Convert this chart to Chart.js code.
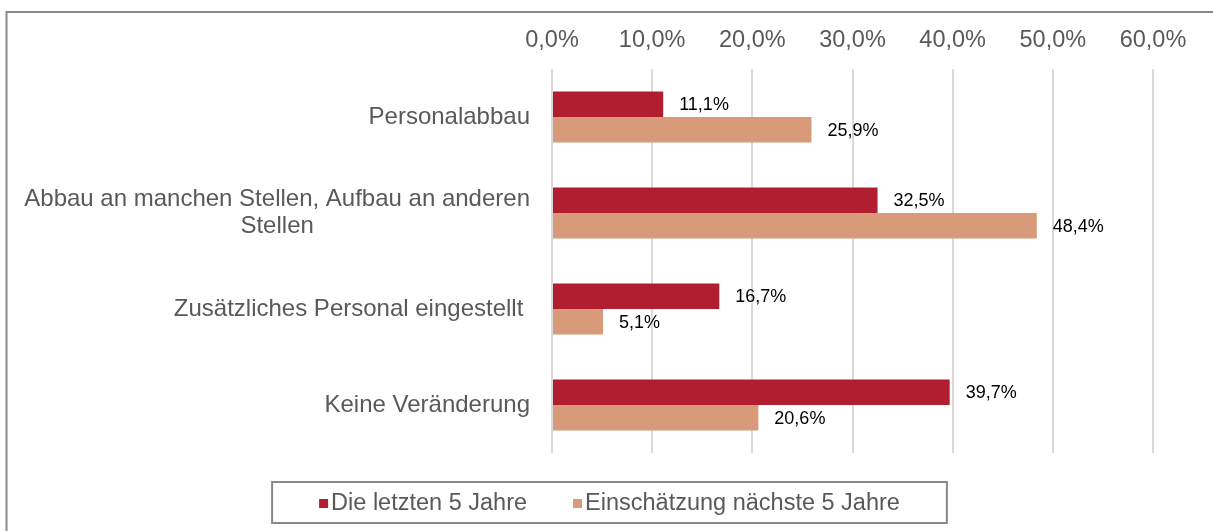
<!DOCTYPE html>
<html>
<head>
<meta charset="utf-8">
<script src="https://cdn.jsdelivr.net/npm/chart.js@4/dist/chart.umd.min.js"></script>
<style>
  html, body { margin: 0; padding: 0; background: #fff; }
  #wrap { position: relative; width: 1213px; height: 531px; }
</style>
</head>
<body>
<div id="wrap"><canvas id="chart"></canvas></div>
<script>
const categories = [
  'Personalabbau',
  ['Abbau an manchen Stellen, Aufbau an anderen', 'Stellen'],
  'Zusätzliches Personal eingestellt ',
  'Keine Veränderung',
];
const seriesNames = ['Die letzten 5 Jahre', 'Einschätzung nächste 5 Jahre'];
const lastFiveYears = [11.1, 32.5, 16.7, 39.7];
const nextFiveYears = [25.9, 48.4, 5.1, 20.6];
const axisMin = 0;
const axisMax = 60;
const axisStep = 10;

const FONT = '"Liberation Sans", Arial, sans-serif';
const TEXT_GREY = '#595959';

function formatPercent(value) {
  return `${Number(value).toFixed(1).replace('.', ',')}%`;
}

// frame lines at top and left, like the cropped chart border
const framePlugin = {
  id: 'frame',
  beforeDraw(chart) {
    const { ctx, width, height } = chart;
    ctx.save();
    ctx.strokeStyle = '#898989';
    ctx.lineWidth = 2;
    ctx.beginPath();
    ctx.moveTo(width, 12);
    ctx.lineTo(6.5, 12);
    ctx.lineTo(6.5, height);
    ctx.stroke();
    ctx.restore();
  },
};

// category labels: right aligned block, lines centred inside the block
const categoryLabelPlugin = {
  id: 'categoryLabels',
  afterDraw(chart) {
    const { ctx } = chart;
    const yScale = chart.scales.y;
    const rightEdge = chart.chartArea.left - 22;
    const lineHeight = 27;
    ctx.save();
    ctx.font = `24px ${FONT}`;
    ctx.fillStyle = TEXT_GREY;
    ctx.textBaseline = 'middle';
    ctx.textAlign = 'center';
    chart.data.labels.forEach((label, i) => {
      const lines = Array.isArray(label) ? label : [label];
      const blockWidth = Math.max(...lines.map((l) => ctx.measureText(l).width));
      const cx = rightEdge - blockWidth / 2;
      const cy = yScale.getPixelForTick(i);
      const startY = cy - ((lines.length - 1) * lineHeight) / 2;
      lines.forEach((line, j) => {
        ctx.fillText(line, cx, startY + j * lineHeight);
      });
    });
    ctx.restore();
  },
};

// value labels just past the end of each bar
const valueLabelPlugin = {
  id: 'valueLabels',
  afterDatasetsDraw(chart) {
    const { ctx } = chart;
    ctx.save();
    ctx.font = `18px ${FONT}`;
    ctx.fillStyle = '#000';
    ctx.textAlign = 'left';
    ctx.textBaseline = 'middle';
    chart.data.datasets.forEach((dataset, di) => {
      const meta = chart.getDatasetMeta(di);
      meta.data.forEach((bar, i) => {
        ctx.fillText(formatPercent(dataset.data[i]), bar.x + 16, bar.y + 1);
      });
    });
    ctx.restore();
  },
};

// boxed legend below the plot
const boxedLegendPlugin = {
  id: 'boxedLegend',
  afterDraw(chart) {
    const { ctx } = chart;
    const square = 9;
    const gap = 3;
    const itemGap = 46;
    const boxTop = 482;
    const boxHeight = 41;
    const padX = 47;
    const midY = boxTop + boxHeight / 2 + 1;
    ctx.save();
    ctx.font = `23.5px ${FONT}`;
    const items = chart.data.datasets.map((ds) => ({
      label: ds.label,
      color: ds.backgroundColor,
      width: square + gap + ctx.measureText(ds.label).width,
    }));
    const total = items.reduce((s, it) => s + it.width, 0) + itemGap * (items.length - 1);
    const centerX = chart.width / 2 + 3;
    let x = centerX - total / 2;

    ctx.strokeStyle = '#898989';
    ctx.lineWidth = 2;
    ctx.strokeRect(x - padX, boxTop, total + padX * 2, boxHeight);

    ctx.textAlign = 'left';
    ctx.textBaseline = 'middle';
    items.forEach((it) => {
      ctx.fillStyle = it.color;
      ctx.fillRect(x, midY - square / 2, square, square);
      ctx.fillStyle = TEXT_GREY;
      ctx.fillText(it.label, x + square + gap, midY);
      x += it.width + itemGap;
    });
    ctx.restore();
  },
};

new Chart(document.getElementById('chart'), {
  type: 'bar',
  data: {
    labels: categories,
    datasets: [
      {
        label: seriesNames[0],
        data: lastFiveYears,
        backgroundColor: '#B01E2F',
      },
      {
        label: seriesNames[1],
        data: nextFiveYears,
        backgroundColor: '#D89A78',
      },
    ],
  },
  options: {
    indexAxis: 'y',
    responsive: true,
    maintainAspectRatio: false,
    animation: false,
    categoryPercentage: 0.531,
    barPercentage: 1,
    layout: {
      padding: { top: 0, right: 60, bottom: 78, left: 0 },
    },
    plugins: {
      legend: { display: false },
      tooltip: { enabled: false },
    },
    scales: {
      x: {
        position: 'top',
        min: axisMin,
        max: axisMax,
        grid: {
          color: '#d9d9d9',
          lineWidth: 2,
          drawTicks: false,
        },
        border: { display: false },
        ticks: {
          stepSize: axisStep,
          padding: 14,
          color: TEXT_GREY,
          font: { family: FONT, size: 23.5 },
          callback(value) {
            return formatPercent(value);
          },
        },
        afterFit(scale) {
          scale.height = 69;
        },
      },
      y: {
        grid: { display: false },
        border: { display: false },
        ticks: { display: false },
        afterFit(scale) {
          scale.width = 552;
        },
      },
    },
  },
  plugins: [framePlugin, categoryLabelPlugin, valueLabelPlugin, boxedLegendPlugin],
});
</script>
</body>
</html>
